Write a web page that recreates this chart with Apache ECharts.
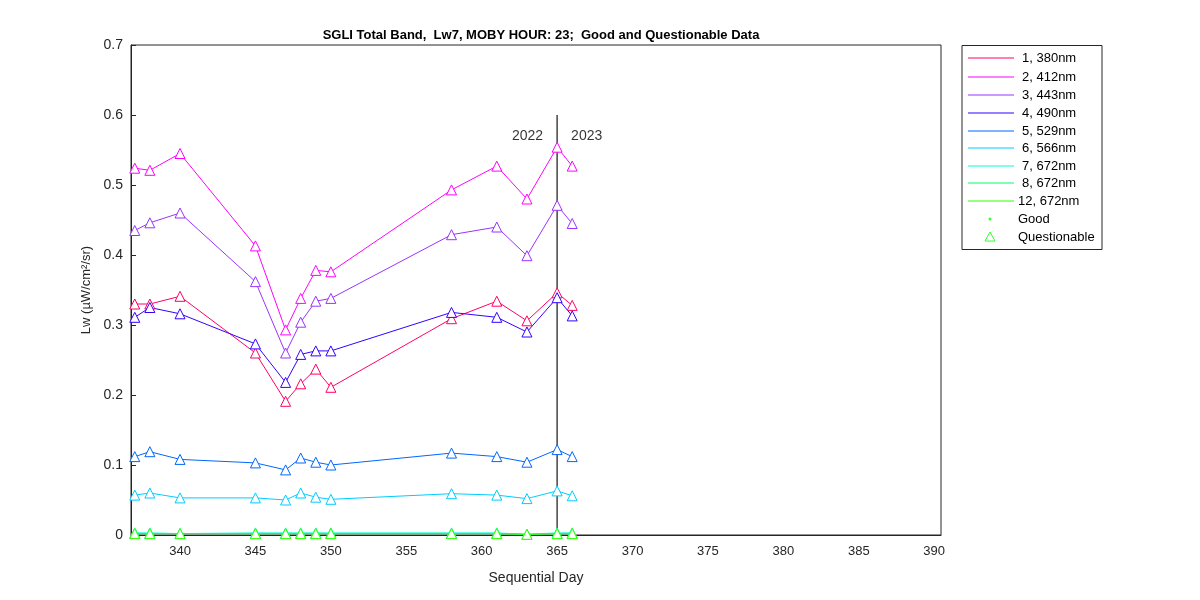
<!DOCTYPE html>
<html><head><meta charset="utf-8">
<script src="https://cdn.jsdelivr.net/npm/echarts@6/dist/echarts.min.js"></script>
<style>body{margin:0}#c{width:1200px;height:600px;background:#fff}</style>
</head><body><div id="c"></div>
<script>
const days = [337,338,340,345,347,348,349,350,358,361,363,365,366];
const b1 = [0.330,0.330,0.341,0.260,0.191,0.216,0.237,0.211,0.309,0.334,0.306,0.346,0.328];
const b2 = [0.524,0.521,0.545,0.413,0.293,0.338,0.378,0.376,0.493,0.527,0.480,0.554,0.527];
const b3 = [0.435,0.446,0.460,0.362,0.260,0.304,0.334,0.338,0.429,0.440,0.399,0.471,0.445];
const b4 = [0.311,0.325,0.316,0.273,0.218,0.258,0.263,0.263,0.318,0.311,0.290,0.339,0.313];
const b5 = [0.112,0.119,0.108,0.103,0.093,0.110,0.104,0.100,0.117,0.112,0.104,0.122,0.112];
const b6 = [0.057,0.060,0.053,0.053,0.050,0.060,0.054,0.051,0.059,0.057,0.052,0.063,0.056];
const b7 = [0.003,0.003,0.002,0.003,0.003,0.003,0.003,0.003,0.003,0.003,0.001,0.003,0.003];
const b8 = [0.002,0.002,0.002,0.002,0.002,0.002,0.002,0.002,0.002,0.002,0.001,0.002,0.002];
const b12 = [0.002,0.002,0.002,0.002,0.002,0.002,0.002,0.002,0.002,0.002,0.001,0.002,0.002];
const names = ['1, 380nm','2, 412nm','3, 443nm','4, 490nm','5, 529nm','6, 566nm','7, 672nm','8, 672nm','12, 672nm'];
const colors = ['#ff0066','#ff00ff','#9933ff','#3300ff','#0066ff','#00ccff','#00ffcc','#00ff66','#33ff00'];
const vals = [b1,b2,b3,b4,b5,b6,b7,b8,b12];
const series = vals.map((v,i)=>({
  name: names[i], type:'line', data: days.map((d,j)=>[d,v[j]]),
  symbol:'triangle', symbolSize:10, showAllSymbol:true,
  lineStyle:{color:colors[i],width:1}, itemStyle:{color:'#fff',borderColor:colors[i],borderWidth:1},
  emphasis:{disabled:true}
}));
series.push({type:'line',data:[[365,0],[365,0.6]],symbol:'none',lineStyle:{color:'#444',width:1.5},silent:true,z:1});
series.push({type:'scatter',data:[[365,0.57]],symbolSize:0,silent:true,
  label:{show:true,formatter:'2022',position:'left',distance:14,color:'#000',fontSize:14,fontFamily:'Liberation Sans'}});
series.push({type:'scatter',data:[[365,0.57]],symbolSize:0,silent:true,
  label:{show:true,formatter:'2023',position:'right',distance:14,color:'#000',fontSize:14,fontFamily:'Liberation Sans'}});
const rowY = [58,77,95,113,131,148,166,183,201,219,237];
const g = [{type:'rect',shape:{x:962,y:45.5,width:140,height:204},style:{fill:'#fff',stroke:'#262626',lineWidth:1}}];
const ts = (t,x,y)=>({type:'text',x:x,y:y,style:{text:t,fill:'#000',font:'13px "Liberation Sans"',textVerticalAlign:'middle'}});
names.forEach((n,i)=>{
  g.push({type:'line',shape:{x1:968,y1:rowY[i],x2:1014,y2:rowY[i]},style:{stroke:colors[i],lineWidth:1}});
  g.push(ts(n, i===8?1018:1022, rowY[i]));
});
g.push({type:'circle',shape:{cx:990,cy:rowY[9],r:1.5},style:{fill:'#33ff33'}});
g.push(ts('Good',1018,rowY[9]));
g.push({type:'polygon',shape:{points:[[990,rowY[10]-5],[995,rowY[10]+4],[985,rowY[10]+4]]},style:{fill:'#fff',stroke:'#33ff33',lineWidth:1}});
g.push(ts('Questionable',1018,rowY[10]));
const chart = echarts.init(document.getElementById('c'));
chart.setOption({
  animation:false,
  title:{text:'SGLI Total Band,  Lw7, MOBY HOUR: 23;  Good and Questionable Data',left:536,top:24,textAlign:'center',
    textStyle:{fontSize:13,fontWeight:'bold',color:'#000',fontFamily:'Liberation Sans'}},
  grid:{left:131,right:259,top:45,bottom:65,show:true,borderColor:'#262626',borderWidth:1,backgroundColor:'transparent'},
  graphic:g,
  xAxis:{type:'value',min:336.75,max:390.45,interval:0.25,name:'Sequential Day',nameLocation:'middle',nameGap:36,
    nameTextStyle:{fontSize:14,color:'#262626',fontFamily:'Liberation Sans'},
    axisLine:{lineStyle:{color:'#262626'}},axisTick:{show:false},splitLine:{show:false},
    axisLabel:{fontSize:13,color:'#262626',fontFamily:'Liberation Sans',margin:10,showMinLabel:false,showMaxLabel:false,
      formatter:v=>(Math.abs(v%5)<1e-6?String(Math.round(v)):'')}},
  yAxis:{type:'value',min:0,max:0.7,interval:0.1,name:'Lw (µW/cm²/sr)',nameLocation:'middle',nameGap:34,
    nameTextStyle:{fontSize:13,color:'#262626',fontFamily:'Liberation Sans'},
    axisLine:{show:true,lineStyle:{color:'#262626'}},axisTick:{inside:true,length:5,lineStyle:{color:'#262626'}},splitLine:{show:false},
    axisLabel:{fontSize:14,color:'#262626',fontFamily:'Liberation Sans',formatter:v=>(v===0?'0':v.toFixed(1))}},
  series
});
</script></body></html>
